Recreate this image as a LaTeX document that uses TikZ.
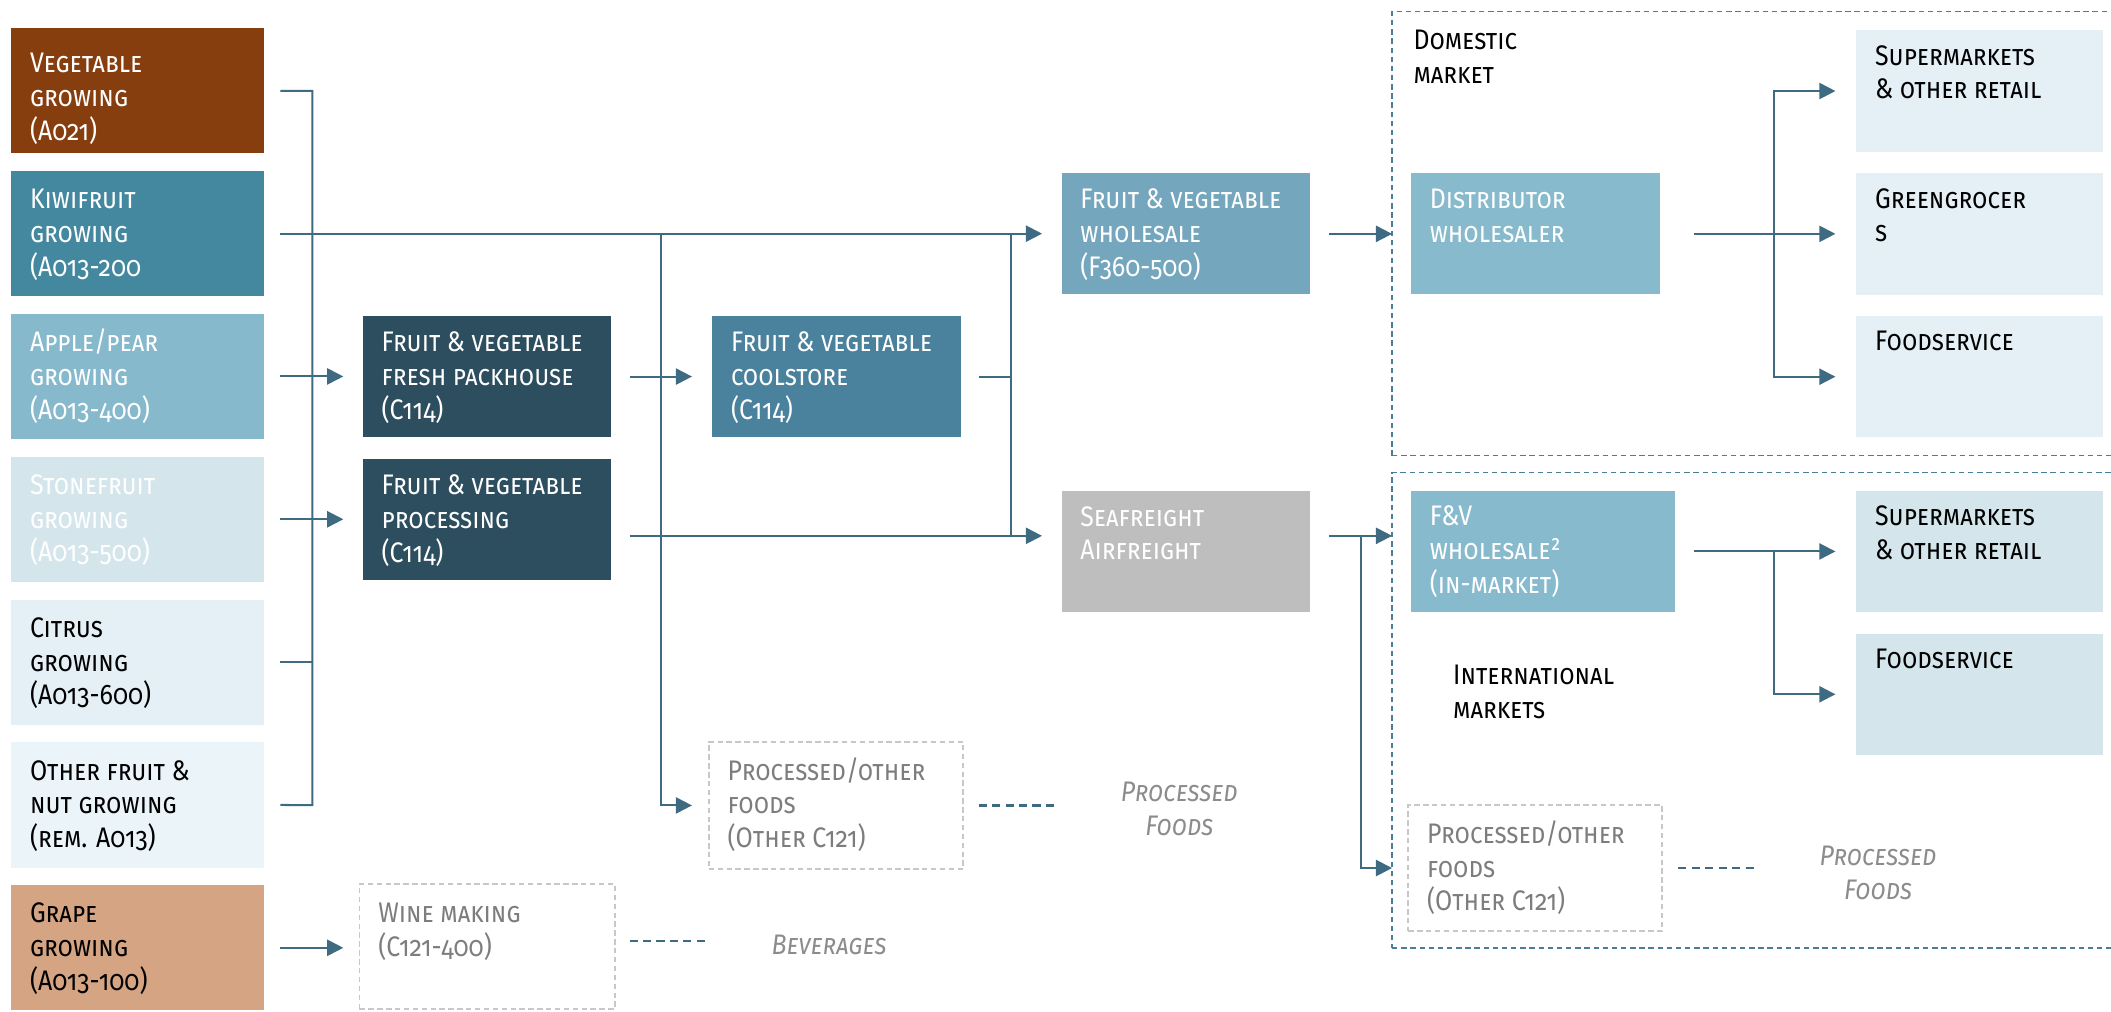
\documentclass[tikz,border=0pt]{standalone}
\usepackage{fontspec}
\setmainfont{Fira Sans}[Numbers=OldStyle, FakeStretch=0.88]
\usetikzlibrary{arrows.meta}
\definecolor{cVeg}{RGB}{135,62,15}
\definecolor{cKiwi}{RGB}{67,136,159}
\definecolor{cApple}{RGB}{134,185,204}
\definecolor{cStone}{RGB}{212,230,236}
\definecolor{cCitrus}{RGB}{228,240,245}
\definecolor{cOther}{RGB}{235,244,248}
\definecolor{cGrape}{RGB}{212,164,131}
\definecolor{cDark}{RGB}{45,78,94}
\definecolor{cCool}{RGB}{74,129,156}
\definecolor{cWhs}{RGB}{116,166,189}
\definecolor{cSea}{RGB}{190,190,190}
\definecolor{cDist}{RGB}{135,186,204}
\definecolor{cLight}{RGB}{228,240,245}
\definecolor{cLightB}{RGB}{212,230,236}
\definecolor{cLine}{RGB}{62,106,130}
\definecolor{cMkt}{RGB}{75,125,150}
\definecolor{cGrayB}{RGB}{200,200,200}
\definecolor{cGrayT}{RGB}{125,125,125}
\definecolor{cLbl}{RGB}{140,140,140}
\newcommand\bt[4]{\parbox[c][#2][t]{#1}{\raggedright\rule{0pt}{#3}#4}}
\tikzset{
  ln/.style={draw=cLine, line width=0.75pt},
  arr/.style={-{Triangle[length=6pt,width=6pt]}},
  dl/.style={draw=cLine, line width=0.8pt, dash pattern=on 3pt off 2pt},
  bx/.style={anchor=north west, inner xsep=7pt, inner ysep=0pt, outer sep=0pt,
    font=\fontsize{10.5}{12.55}\selectfont\scshape},
  gbx/.style={bx, draw=cGrayB, line width=0.6pt, dash pattern=on 2pt off 1.3pt, text=cGrayT},
  mkt/.style={anchor=north west, inner sep=0pt, outer sep=0pt, draw=cMkt,
    line width=0.55pt, dash pattern=on 2pt off 1.4pt},
  lb/.style={inner sep=0pt, font=\fontsize{10.5}{12.55}\selectfont\scshape},
  lbi/.style={inner sep=0pt, text=cLbl, font=\fontsize{10.5}{12.55}\selectfont\itshape\scshape},
}
\begin{document}
\begin{tikzpicture}[x=0.5pt,y=-0.5pt]
\useasboundingbox (0,0) rectangle (1568,751);
% market frames
\node[mkt, minimum width=290pt, minimum height=164.9pt] (dom) at (1034,8.7) {};
\node[mkt, minimum width=290pt, minimum height=176.5pt] (intl) at (1034,351) {};
% growing boxes
\node[bx, fill=cVeg, text=white] (veg) at (8.3,21) {\bt{80pt}{46.5pt}{16.5pt}{Vegetable\\growing\\(A021)}};
\node[bx, fill=cKiwi, text=white] (kiwi) at (8.3,127.05) {\bt{80pt}{46.5pt}{14pt}{Kiwifruit\\growing\\(A013-200}};
\node[bx, fill=cApple, text=white] (apple) at (8.3,233.1) {\bt{80pt}{46.5pt}{14pt}{Apple/pear\\growing\\(A013-400)}};
\node[bx, fill=cStone, text=white] (stone) at (8.3,339.2) {\bt{80pt}{46.5pt}{14pt}{Stonefruit\\growing\\(A013-500)}};
\node[bx, fill=cCitrus, text=black] (citrus) at (8.3,445.3) {\bt{80pt}{46.5pt}{14pt}{Citrus\\growing\\(A013-600)}};
\node[bx, fill=cOther, text=black] (other) at (8.3,551.4) {\bt{80pt}{46.5pt}{14pt}{Other fruit \&\\nut growing\\(rem. A013)}};
\node[bx, fill=cGrape, text=black] (grape) at (8.3,657.5) {\bt{80pt}{46.5pt}{14pt}{Grape\\growing\\(A013-100)}};
% processing column
\node[bx, fill=cDark, text=white] (pack) at (269.5,234.7) {\bt{78.25pt}{45pt}{13.2pt}{Fruit \& vegetable\\fresh packhouse\\(C114)}};
\node[bx, fill=cDark, text=white] (proc) at (269.5,341) {\bt{78.25pt}{45pt}{13.2pt}{Fruit \& vegetable\\processing\\(C114)}};
\node[gbx] (wine) at (267,656.6) {\bt{80.8pt}{46.5pt}{14.2pt}{Wine making\\(C121-400)}};
\node[bx, fill=cCool, text=white] (cool) at (529,234.7) {\bt{78.25pt}{45pt}{13.2pt}{Fruit \& vegetable\\coolstore\\(C114)}};
\node[gbx] (pof) at (526.5,551) {\bt{80.5pt}{47.25pt}{14.2pt}{Processed/other\\foods\\(Other C121)}};
\node[bx, fill=cWhs, text=white] (whs) at (788.5,128.7) {\bt{78.25pt}{45pt}{13.2pt}{Fruit \& vegetable\\wholesale\\(F360-500)}};
\node[bx, fill=cSea, text=white] (sea) at (788.5,364.7) {\bt{78.25pt}{45pt}{13pt}{Seafreight\\Airfreight}};
% domestic market
\node[lb, anchor=base west] (domlbl) at (1049.5,37) {\parbox[t]{80pt}{\raggedright Domestic\\market}};
\node[bx, fill=cDist, text=white] (dist) at (1048,128.7) {\bt{78.4pt}{45pt}{13pt}{Distributor\\wholesaler}};
\node[bx, fill=cLight, text=black] (super) at (1378.8,22.5) {\bt{77.6pt}{45.1pt}{12.9pt}{Supermarkets\\\& other retail}};
\node[bx, fill=cLight, text=black] (green) at (1378.8,128.7) {\bt{77.6pt}{45.1pt}{12.9pt}{Greengrocer\\s}};
\node[bx, fill=cLight, text=black] (food) at (1378.8,234.7) {\bt{77.6pt}{45.1pt}{12.9pt}{Foodservice}};
% international markets
\node[bx, fill=cDist, text=white] (fvw) at (1048,364.6) {\bt{84pt}{45pt}{13pt}{F\&V\\wholesale²\\(in-market)}};
\node[lb, anchor=base west] (intlbl) at (1079,508.5) {\parbox[t]{80pt}{\raggedright International\\markets}};
\node[bx, fill=cLightB, text=black] (isuper) at (1378.8,364.6) {\bt{77.6pt}{45pt}{12.9pt}{Supermarkets\\\& other retail}};
\node[bx, fill=cLightB, text=black] (ifood) at (1378.8,470.7) {\bt{77.6pt}{45pt}{12.9pt}{Foodservice}};
\node[gbx] (pof2) at (1046,598) {\bt{80.25pt}{46.75pt}{14.2pt}{Processed/other\\foods\\(Other C121)}};
% output labels
\node[lbi, anchor=base] (pfl) at (876,595.5) {\parbox[t]{70pt}{\centering Processed\\Foods}};
\node[lbi, anchor=base] (pfl2) at (1395,643) {\parbox[t]{70pt}{\centering Processed\\Foods}};
\node[lbi, anchor=base west] (bev) at (572.7,709) {Beverages};
% target points just before the boxes
\coordinate (packin) at ([xshift=-7.25pt]pack.west);
\coordinate (procin) at ([xshift=-7.25pt]proc.west);
\coordinate (whsin) at ([xshift=-7.25pt]whs.west);
\coordinate (winein) at ([xshift=-6pt]wine.west);
\coordinate (coolin) at ([xshift=-7.5pt]cool.west);
\coordinate (greenin) at ([xshift=-7.75pt]green.west);
\coordinate (superin) at ([xshift=-7.75pt]super.west);
\coordinate (foodin) at ([xshift=-7.75pt]food.west);
\coordinate (isuperin) at ([xshift=-7.75pt]isuper.west);
\coordinate (ifoodin) at ([xshift=-7.75pt]ifood.west);
\coordinate (pofin) at ([xshift=-6.25pt]pof.west);
% connectors: growing -> bus
\coordinate (bus) at (232,598);
\draw[ln] ([xshift=6pt]veg.east) -| (bus) -- ([xshift=6pt]other.east);
\draw[ln] ([xshift=6pt]citrus.east) -- (citrus.east -| bus);
\draw[ln,arr] ([xshift=6pt]apple.east) -- (packin |- apple.east);
\draw[ln,arr] ([xshift=6pt]stone.east) -- (procin |- stone.east);
\draw[ln,arr] ([xshift=6pt]kiwi.east) -- (whsin |- kiwi.east);
\draw[ln,arr] ([xshift=6pt]grape.east) -- (winein |- grape.east);
\coordinate (kb) at (kiwi.east -| 491,0);
\draw[ln,arr] (kb) |- (pofin);
% processing -> wholesale / freight
\draw[ln,arr] ([xshift=6.8pt]pack.east) -- (coolin |- pack.east);
\coordinate (mgT) at (kiwi.east -| 751,0);
\coordinate (mgB) at (751,398);
\draw[ln] (mgT) -- (mgB);
\draw[ln] ([xshift=7pt]cool.east) -- (cool.east -| mgT);
\coordinate (procout) at ([xshift=6.8pt]proc.east);
\coordinate (seain) at ([xshift=-7.25pt]sea.west);
\draw[ln,arr] (procout |- mgB) -- (seain |- mgB);
% domestic
\draw[ln,arr] ([xshift=7pt]whs.east) -- (dom.west |- whs.east);
\draw[ln,arr] ([xshift=12.6pt]dist.east) -- (greenin |- dist.east);
\coordinate (dv) at (dist.east -| 1317.5,0);
\draw[ln,arr] (dv) |- (superin);
\draw[ln,arr] (dv) |- (foodin);
% international
\coordinate (so) at ([xshift=7pt]sea.east);
\coordinate (sv) at (1010.6,398);
\draw[ln,arr] (so |- sv) -- (intl.west |- sv);
\draw[ln,arr] (sv) |- (intl.west |- pof2.west);
\draw[ln,arr] ([xshift=7pt]fvw.east) -- (isuperin |- fvw.east);
\coordinate (iv) at (fvw.east -| 1317.5,0);
\draw[ln,arr] (iv) |- (ifoodin);
% dashed product links
\draw[dl] ([xshift=5.7pt]pof.east) -- ([xshift=35.5pt]pof.east);
\draw[dl] ([xshift=6pt]pof2.east) -- ([xshift=35.75pt]pof2.east);
\draw[dl] ([xshift=5.5pt,yshift=2.2pt]wine.east) -- ([xshift=35.2pt,yshift=2.2pt]wine.east);
\end{tikzpicture}
\end{document}
